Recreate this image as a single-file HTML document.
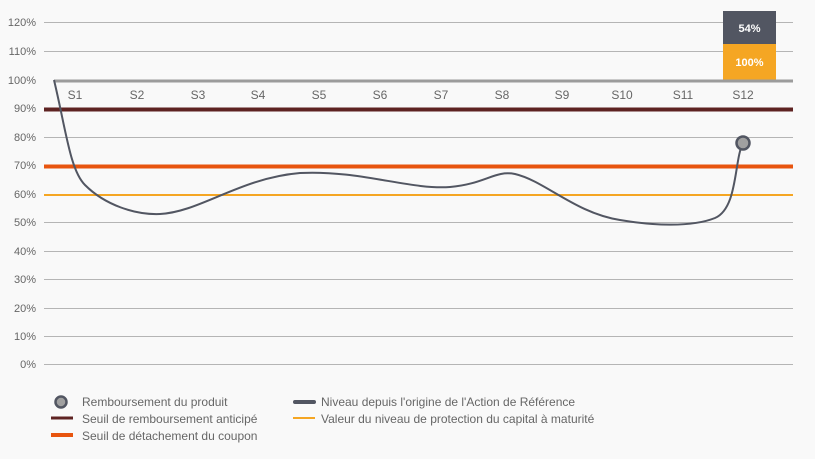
<!DOCTYPE html>
<html><head><style>
body{margin:0;background:#f9f9f9;width:815px;height:454px;overflow:hidden;font-family:"Liberation Sans",sans-serif}
</style></head><body>
<svg width="815" height="454" xmlns="http://www.w3.org/2000/svg" font-family="Liberation Sans, sans-serif">
<rect width="815" height="454" fill="#f9f9f9"/>
<g stroke="#b5b5b5" stroke-width="1">
<line x1="44" y1="22.5" x2="793" y2="22.5"/><line x1="44" y1="51.5" x2="793" y2="51.5"/>
<line x1="44" y1="137.5" x2="793" y2="137.5"/>
<line x1="44" y1="222.5" x2="793" y2="222.5"/><line x1="44" y1="251.5" x2="793" y2="251.5"/>
<line x1="44" y1="279.5" x2="793" y2="279.5"/><line x1="44" y1="308.5" x2="793" y2="308.5"/>
<line x1="44" y1="336.5" x2="793" y2="336.5"/><line x1="44" y1="364.5" x2="793" y2="364.5"/>
</g>
<g fill="#666" font-size="11" text-anchor="end">
<text x="36" y="26">120%</text><text x="36" y="55">110%</text><text x="36" y="84">100%</text>
<text x="36" y="112">90%</text><text x="36" y="141">80%</text><text x="36" y="169">70%</text>
<text x="36" y="198">60%</text><text x="36" y="226">50%</text><text x="36" y="255">40%</text>
<text x="36" y="283">30%</text><text x="36" y="312">20%</text><text x="36" y="340">10%</text>
<text x="36" y="368">0%</text>
</g>
<rect x="723" y="11" width="53" height="33" fill="#525662"/>
<rect x="723" y="44" width="53" height="36" fill="#f5a623"/>
<text x="749.5" y="32" fill="#fff" font-size="11" font-weight="bold" text-anchor="middle">54%</text>
<text x="749.5" y="66" fill="#fff" font-size="11" font-weight="bold" text-anchor="middle">100%</text>
<line x1="54" y1="81" x2="793" y2="81" stroke="#9c9c9c" stroke-width="3"/>
<g fill="#666" font-size="12" text-anchor="middle">
<text x="75" y="99">S1</text><text x="137" y="99">S2</text><text x="198" y="99">S3</text>
<text x="258" y="99">S4</text><text x="319" y="99">S5</text><text x="380" y="99">S6</text>
<text x="441" y="99">S7</text><text x="502" y="99">S8</text><text x="562" y="99">S9</text>
<text x="622" y="99">S10</text><text x="683" y="99">S11</text><text x="743" y="99">S12</text>
</g>
<line x1="44" y1="109.5" x2="793" y2="109.5" stroke="#5e2322" stroke-width="4"/>
<line x1="44" y1="166.5" x2="793" y2="166.5" stroke="#e8550f" stroke-width="4"/>
<line x1="44" y1="195" x2="793" y2="195" stroke="#f5a623" stroke-width="2"/>
<path d="M54 80 C66 130 70 170 85 185 C105 205 135 215 160 214 C200 212 240 178 300 173 C360 170 410 190 450 187 C485 184 495 170 515 174 C545 181 575 213 620 220 C650 225 690 228 715 218 C738 208 734 160 743 143" fill="none" stroke="#525662" stroke-width="2"/>
<circle cx="743" cy="143" r="6.5" fill="#a0a0a0" stroke="#525662" stroke-width="2.5"/>
<circle cx="61" cy="402" r="5.5" fill="#a0a0a0" stroke="#525662" stroke-width="2.5"/>
<line x1="51" y1="418" x2="73" y2="418" stroke="#5e2322" stroke-width="3"/>
<line x1="51" y1="435" x2="73" y2="435" stroke="#e8550f" stroke-width="4"/>
<line x1="295" y1="402" x2="314" y2="402" stroke="#525662" stroke-width="4" stroke-linecap="round"/>
<line x1="293" y1="418" x2="315" y2="418" stroke="#f5a623" stroke-width="2"/>
<g fill="#666" font-size="12">
<text x="82" y="406">Remboursement du produit</text>
<text x="82" y="423">Seuil de remboursement anticipé</text>
<text x="82" y="440">Seuil de détachement du coupon</text>
<text x="321" y="406">Niveau depuis l'origine de l'Action de Référence</text>
<text x="321" y="423">Valeur du niveau de protection du capital à maturité</text>
</g>
</svg>
</body></html>
